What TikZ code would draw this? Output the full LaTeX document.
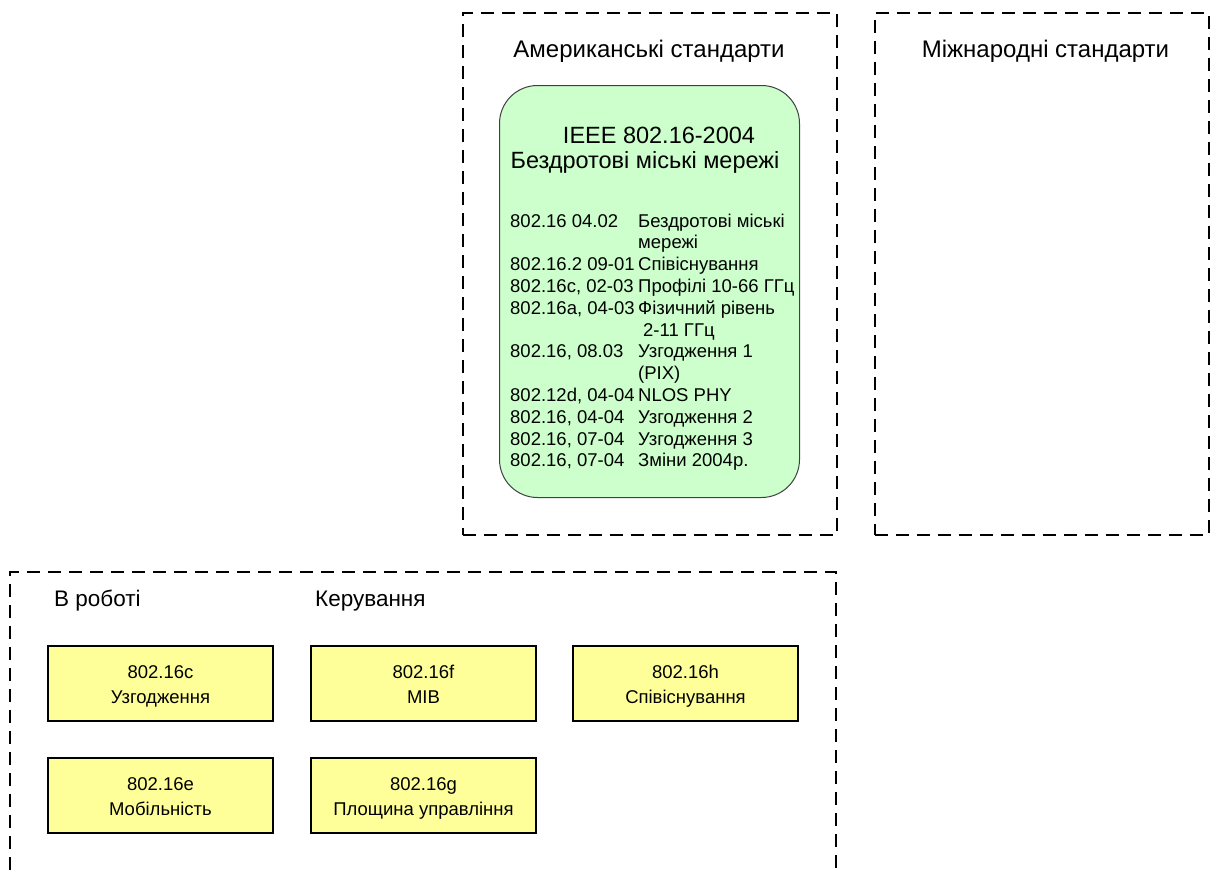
\documentclass[tikz,border=0pt]{standalone}
\usepackage{fontspec}
\setmainfont{Liberation Sans}
\usepackage{array}
\definecolor{lgreen}{RGB}{204,255,204}
\definecolor{lyellow}{RGB}{255,255,153}
\newcommand{\dpt}{\vphantom{у}}
\newcommand{\tpt}{\rule{0pt}{18.5pt}}
\begin{document}
\begin{tikzpicture}[x=1pt,y=-1pt,
  grp/.style={draw, line width=1.5pt, dash pattern=on 13pt off 8pt},
  title/.style={anchor=base, inner sep=0pt, font=\fontsize{24}{28}\selectfont},
  lbl/.style={anchor=base west, inner sep=0pt, font=\fontsize{22.5}{26}\selectfont},
  greenbox/.style={draw=black!75, line width=1pt, fill=lgreen, rounded corners=38pt, anchor=north west, inner sep=0pt},
  hdr/.style={anchor=base, inner sep=0pt, font=\fontsize{23.5}{27}\selectfont},
  lst/.style={anchor=base west, inner sep=0pt, font=\fontsize{18.5}{21.8}\selectfont},
  ybox/.style={draw, line width=1.5pt, fill=lyellow, minimum width=225pt, minimum height=75pt, inner sep=0pt, align=center, font=\fontsize{18.5}{25}\selectfont}
]
\useasboundingbox (0,0) rectangle (1216,870);
% group frames
\node[grp, minimum width=374pt, minimum height=522pt, anchor=north west, inner sep=0pt] (us) at (462,12) {};
\node[grp, minimum width=334pt, minimum height=522pt, anchor=north west, inner sep=0pt] (intl) at (874,12) {};
\coordinate (wbl) at (10,870);
\coordinate (wtr) at (836,572);
\coordinate (wbr) at (836,870);
\draw[grp] (wbl) |- (wtr) -- (wbr);
% titles
\node[title] (ust) at (649,57) {Американські стандарти};
\node[title] (intt) at (1045.5,57) {Міжнародні стандарти};
\node[lbl] (work) at (54,606) {В роботі};
\node[lbl] (mgmt) at (315,606) {Керування};
% green standard box
\node[greenbox, minimum width=300pt, minimum height=412pt] (std) at (499,85) {};
\node[hdr] (h1) at (659,143) {IEEE 802.16-2004};
\node[hdr] (h2) at (645,168) {Бездротові міські мережі};
\node[lst] (list) at (510,227) {%
\begin{tabular}[t]{@{}w{l}{128pt}@{}l@{}}
802.16 04.02 & Бездротові міські\\
 & мережі\\
802.16.2 09-01 & Співіснування\\
802.16c, 02-03 & Профілі 10-66 ГГц\\
802.16a, 04-03 & Фізичний рівень\\
 & \hspace{5pt}2-11 ГГц\\
802.16, 08.03 & Узгодження 1\\
 & (PIX)\\
802.12d, 04-04 & NLOS PHY\\
802.16, 04-04 & Узгодження 2\\
802.16, 07-04 & Узгодження 3\\
802.16, 07-04 & Зміни 2004р.
\end{tabular}};
% yellow boxes
\node[ybox] (c) at (160.5,683.5) {\tpt 802.16c\\Узгодження\dpt};
\node[ybox] (f) at (423.5,683.5) {\tpt 802.16f\\MIB\dpt};
\node[ybox] (h) at (685.5,683.5) {\tpt 802.16h\\Співіснування\dpt};
\node[ybox] (e) at (160.5,795.5) {\tpt 802.16e\\Мобільність\dpt};
\node[ybox] (g) at (423.5,795.5) {\tpt 802.16g\\Площина управління\dpt};
\end{tikzpicture}
\end{document}
